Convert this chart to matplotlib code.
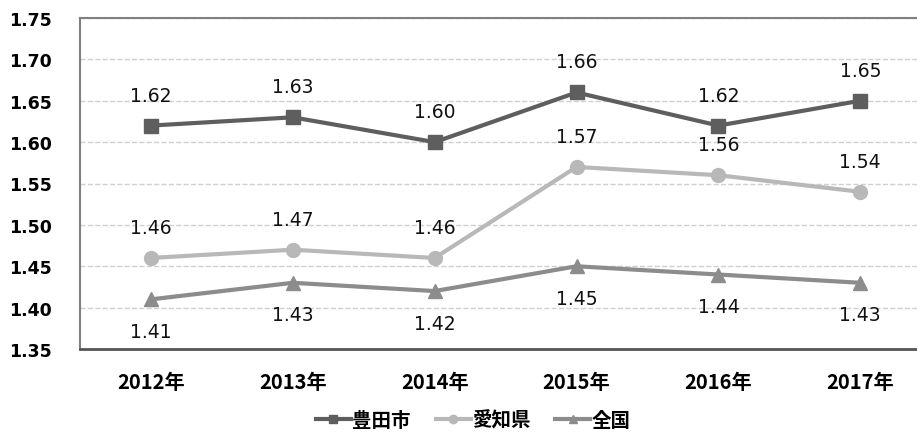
import matplotlib.pyplot as plt
import numpy as np

plt.rcParams['font.family'] = ['Noto Sans CJK JP', 'DejaVu Sans']

years = ['2012年', '2013年', '2014年', '2015年', '2016年', '2017年']
toyota = [1.62, 1.63, 1.60, 1.66, 1.62, 1.65]
aichi = [1.46, 1.47, 1.46, 1.57, 1.56, 1.54]
japan = [1.41, 1.43, 1.42, 1.45, 1.44, 1.43]


def create_chart():
    fig = plt.figure(figsize=(9.17, 4.35), dpi=100)
    ax = fig.add_axes([80 / 917, 1 - 350 / 435, 1 - 80 / 917, (350 - 19) / 435])

    x = np.arange(len(years))
    ax.plot(x, toyota, color='#5e5e5e', lw=3, marker='s', ms=10, label='豊田市', zorder=3)
    ax.plot(x, aichi, color='#b8b8b8', lw=3, marker='o', ms=10, label='愛知県', zorder=3)
    ax.plot(x, japan, color='#8c8c8c', lw=3, marker='^', ms=10, label='全国', zorder=3)

    # value labels
    for i in x:
        ax.annotate(f'{toyota[i]:.2f}', (i, toyota[i]), xytext=(0, 22), textcoords='offset points',
                    ha='center', va='center', fontsize=13.5, family='DejaVu Sans', color='#111111')
        ax.annotate(f'{aichi[i]:.2f}', (i, aichi[i]), xytext=(0, 22), textcoords='offset points',
                    ha='center', va='center', fontsize=13.5, family='DejaVu Sans', color='#111111')
        ax.annotate(f'{japan[i]:.2f}', (i, japan[i]), xytext=(0, -23), textcoords='offset points',
                    ha='center', va='center', fontsize=13.5, family='DejaVu Sans', color='#111111')

    ax.set_xlim(-0.5, 5.4)
    ax.set_ylim(1.35, 1.75)
    ax.set_yticks(np.arange(1.35, 1.751, 0.05))
    ax.set_yticklabels([f'{v:.2f}' for v in np.arange(1.35, 1.751, 0.05)],
                       fontsize=12.5, fontweight='bold', family='DejaVu Sans')
    ax.set_xticks(x)
    ax.set_xticklabels(years, fontsize=14.5, fontweight='bold')
    ax.tick_params(length=0, pad=20, axis='y')
    ax.tick_params(length=0, pad=16, axis='x')

    ax.grid(True, axis='y', linestyle='--', color='#d0d0d0', lw=1)
    ax.set_axisbelow(True)
    ax.spines['right'].set_visible(False)
    ax.spines['top'].set_color('#808080')
    ax.spines['top'].set_linewidth(1.5)
    ax.spines['left'].set_color('#808080')
    ax.spines['left'].set_linewidth(1.5)
    ax.spines['bottom'].set_color('#555555')
    ax.spines['bottom'].set_linewidth(2)

    fig.legend(loc='center', bbox_to_anchor=(0.516, 1 - 421 / 435), ncol=3, frameon=False,
               prop={'size': 14, 'weight': 'bold'}, handlelength=1.8, handletextpad=0.05,
               columnspacing=1.3, markerscale=0.6)

    fig.savefig('out.png', dpi=100)
    plt.close(fig)


if __name__ == "__main__":
    create_chart()
